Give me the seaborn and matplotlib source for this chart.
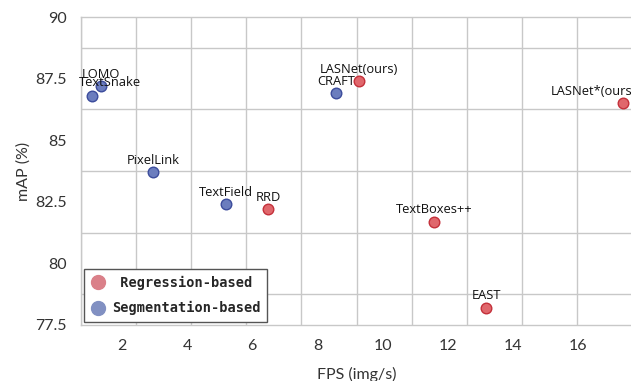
import matplotlib.pyplot as plt
import numpy as np
import pandas as pd
import seaborn as sns

METHODS = ["TextSnake", "LOMO", "PixelLink", "TextField", "CRAFT",
           "RRD", "LASNet(ours)", "TextBoxes++", "EAST", "LASNet*(ours)"]
FPS = [1.08, 1.35, 2.95, 5.2, 8.57, 6.49, 9.28, 11.59, 13.18, 17.39]
MAP = [86.8, 87.2, 83.7, 82.4, 86.9, 82.2, 87.4, 81.7, 78.2, 86.5]
KIND = ["Segmentation-based"] * 5 + ["Regression-based"] * 5

X_TICKS = [2, 4, 6, 8, 10, 12, 14, 16]
Y_TICKS = [77.5, 80, 82.5, 85, 87.5, 90]
Y_TICK_LABELS = ["77.5", "80", "82.5", "85", "87.5", "90"]
X_LIM = (0.74, 17.66)
Y_LIM = (77.5, 90)

FILL = {"Regression-based": "#E0676C", "Segmentation-based": "#6B7DBE"}
EDGE = {"Regression-based": "#C4303A", "Segmentation-based": "#3C4C9C"}
LEGEND_FILL = {"Regression-based": "#DA8089", "Segmentation-based": "#8190C2"}

# label offsets in pixels (dx, dy) from each point
OFFSETS = {
    "TextSnake": (18, 13),
    "LOMO": (0, 12),
    "LASNet*(ours)": (-30, 12),
}


def main() -> None:
    sns.set_theme(style="white")
    df = pd.DataFrame({"method": METHODS, "fps": FPS, "map": MAP, "kind": KIND})

    fig = plt.figure(figsize=(6.31, 3.81), dpi=100)
    ax = fig.add_axes([0.128, 0.147, 0.874, 0.808])

    for kind in ["Regression-based", "Segmentation-based"]:
        sub = df[df["kind"] == kind]
        sns.scatterplot(
            data=sub, x="fps", y="map", color=FILL[kind], edgecolor=EDGE[kind],
            linewidth=1.0, s=58, ax=ax, zorder=3, legend=False,
        )

    for _, row in df.iterrows():
        dx, dy = OFFSETS.get(row["method"], (0, 12))
        ax.annotate(
            row["method"], (row["fps"], row["map"]), xytext=(dx, dy),
            textcoords="offset pixels", ha="center", va="center",
            fontsize=9.3, family="Open Sans", color="#111111", zorder=4,
            annotation_clip=False,
        )

    ax.set_xlim(*X_LIM)
    ax.set_ylim(*Y_LIM)
    ax.set_xticks(X_TICKS)
    ax.set_yticks(Y_TICKS)
    ax.set_yticklabels(Y_TICK_LABELS)
    ax.set_xticks(np.linspace(X_LIM[0], X_LIM[1], 11), minor=True)
    ax.set_yticks(np.linspace(Y_LIM[0], Y_LIM[1], 11), minor=True)
    ax.grid(False, which="major")
    ax.grid(True, which="minor", color="#C8C8C8", linewidth=1.0)
    ax.tick_params(which="both", length=0)
    ax.tick_params(which="major", labelsize=11.5, labelcolor="#333333", pad=10)
    for lab in ax.get_xticklabels() + ax.get_yticklabels():
        lab.set_family("Lato")
    for spine in ax.spines.values():
        spine.set_color("#C8C8C8")
        spine.set_linewidth(1.0)

    ax.set_xlabel("FPS (img/s)", family="Lato", fontsize=11.5, color="#333333", labelpad=10)
    ax.set_ylabel("mAP (%)", family="Lato", fontsize=11.5, color="#333333", labelpad=3)

    handles = [
        plt.Line2D([], [], marker="o", linestyle="", markersize=10,
                   markerfacecolor=LEGEND_FILL[k], markeredgecolor=LEGEND_FILL[k])
        for k in ["Regression-based", "Segmentation-based"]
    ]
    leg = ax.legend(
        handles, [" Regression-based", "Segmentation-based"], loc="lower left",
        borderaxespad=0.25, frameon=True, fancybox=False, framealpha=1,
        handletextpad=0.5, borderpad=0.45, labelspacing=0.85, handlelength=1.1,
        prop={"family": "DejaVu Sans Mono", "weight": "bold", "size": 9.8},
    )
    leg.get_frame().set_edgecolor("#555555")
    leg.get_frame().set_linewidth(1.0)
    leg.set_zorder(5)

    fig.savefig("out.png", dpi=100)
    plt.close(fig)


if __name__ == "__main__":
    main()
